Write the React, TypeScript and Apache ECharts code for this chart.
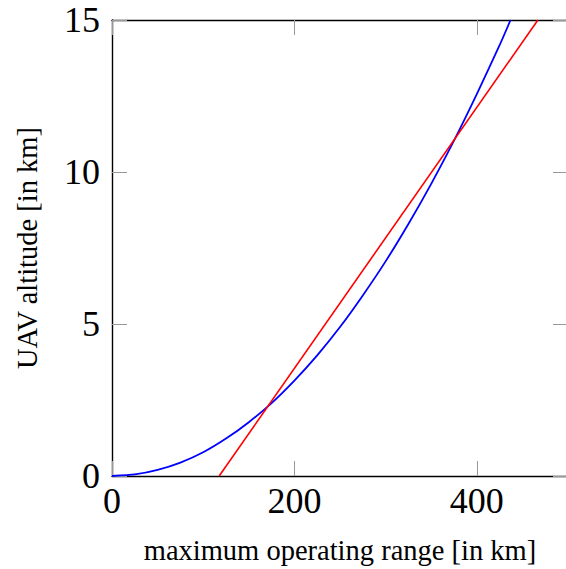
import React, { useEffect, useRef } from "react";
import * as echarts from "echarts";

const xTicks = [0, 200, 400];
const yTicks = [0, 5, 10, 15];
const blueX = [0, 25, 50, 75, 100, 125, 150, 175, 200, 225, 250, 275, 300, 325, 350, 375, 400, 425, 437];
const blueY = [0, 0.05, 0.2, 0.44, 0.78, 1.23, 1.77, 2.4, 3.14, 3.97, 4.9, 5.94, 7.06, 8.29, 9.61, 11.03, 12.56, 14.17, 15.0];
const redX = [117.5, 467];
const redY = [0, 15];
const xTitle = "maximum operating range [in km]";
const yTitle = "UAV altitude [in km]";

const FONT = "'Liberation Serif', 'DejaVu Serif', serif";

export default function App() {
  const ref = useRef<HTMLDivElement>(null);
  useEffect(() => {
    document.body.style.margin = "0";
    if (!ref.current) return;
    const chart = echarts.init(ref.current, null, { renderer: "svg" });
    const tick = { show: true, inside: true, length: 15, lineStyle: { color: "#999", width: 1 } };
    const line = { show: true, onZero: false, lineStyle: { color: "#000", width: 1.4 } };
    chart.setOption({
      animation: false,
      backgroundColor: "#fff",
      grid: { left: 112, top: 20, width: 456, height: 456, containLabel: false, outerBoundsMode: "none" },
      xAxis: [
        {
          type: "value",
          min: 0,
          max: 500,
          interval: 200,
          position: "bottom",
          axisLine: line,
          axisTick: tick,
          splitLine: { show: false },
          axisLabel: {
            color: "#000",
            fontFamily: FONT,
            fontSize: 36,
            margin: 7,
            formatter: (v: number) => (xTicks.includes(v) ? String(v) : ""),
          },
          name: xTitle,
          nameLocation: "middle",
          nameGap: 60,
          nameTextStyle: { color: "#000", fontFamily: FONT, fontSize: 28.5 },
        },
        {
          type: "value",
          min: 0,
          max: 500,
          interval: 200,
          position: "top",
          axisLine: line,
          axisTick: tick,
          splitLine: { show: false },
          axisLabel: { show: false },
        },
      ],
      yAxis: [
        {
          type: "value",
          min: 0,
          max: 15,
          interval: 5,
          position: "left",
          axisLine: line,
          axisTick: tick,
          splitLine: { show: false },
          axisLabel: {
            color: "#000",
            fontFamily: FONT,
            fontSize: 36,
            margin: 12,
            formatter: (v: number) => (yTicks.includes(v) ? String(v) : ""),
          },
          name: yTitle,
          nameLocation: "middle",
          nameGap: 70,
          nameTextStyle: { color: "#000", fontFamily: FONT, fontSize: 28.5 },
        },
        {
          type: "value",
          min: 0,
          max: 15,
          interval: 5,
          position: "right",
          axisLine: { show: false, onZero: false },
          axisTick: tick,
          splitLine: { show: false },
          axisLabel: { show: false },
        },
      ],
      series: [
        {
          type: "line",
          data: blueX.map((x, i) => [x, blueY[i]]),
          smooth: 0.2,
          showSymbol: false,
          lineStyle: { color: "#0000ff", width: 1.8 },
          clip: true,
        },
        {
          type: "line",
          data: redX.map((x, i) => [x, redY[i]]),
          showSymbol: false,
          lineStyle: { color: "#ff0000", width: 1.6 },
          clip: true,
        },
      ],
    });
    return () => chart.dispose();
  }, []);
  return <div ref={ref} style={{ width: 566, height: 569 }} />;
}
